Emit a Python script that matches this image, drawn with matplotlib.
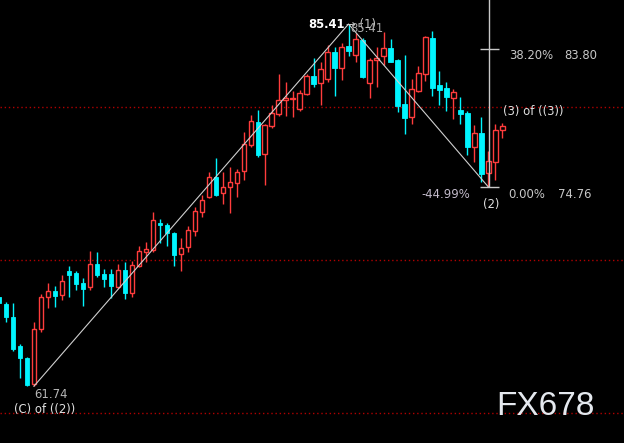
import numpy as np
import matplotlib
matplotlib.use('Agg')
import matplotlib.pyplot as plt

# OHLC per bar
opens = [67.57, 67.11, 66.26, 64.37, 63.58, 61.88, 65.48, 67.57, 67.96, 67.70,
         69.27, 69.14, 68.49, 68.22, 69.73, 69.07, 69.07, 68.22, 69.34, 67.83,
         69.60, 70.51, 70.64, 72.41, 72.28, 71.75, 70.38, 70.84, 71.88, 73.13,
         74.11, 75.41, 74.37, 74.76, 75.02, 75.81, 77.51, 79.01, 76.92, 78.75,
         79.53, 80.45, 80.51, 79.86, 80.84, 82.01, 81.56, 81.82, 83.58, 82.54,
         83.98, 83.39, 84.37, 81.56, 83.06, 83.32, 83.84, 83.06, 80.18, 79.34,
         81.03, 82.15, 84.50, 81.43, 81.23, 80.58, 79.79, 79.60, 77.37, 78.29,
         75.68, 76.39, 78.49]
highs = [67.70, 67.24, 67.18, 64.50, 63.65, 65.94, 67.77, 68.49, 68.29, 69.01,
         69.60, 69.27, 68.81, 70.58, 70.51, 69.40, 69.40, 69.73, 69.86, 69.92,
         70.90, 71.17, 73.13, 72.67, 72.41, 71.82, 71.43, 72.21, 73.45, 74.24,
         75.74, 76.66, 75.74, 76.07, 75.94, 78.35, 79.47, 79.79, 78.88, 80.12,
         82.15, 81.62, 81.03, 81.10, 82.15, 83.19, 82.93, 84.04, 83.91, 84.17,
         85.41, 84.83, 84.50, 83.19, 83.91, 84.89, 84.43, 83.10, 83.39, 81.82,
         82.67, 84.63, 84.96, 82.34, 81.62, 81.17, 80.64, 79.73, 78.81, 79.34,
         77.11, 78.88, 78.94]
lows = [67.05, 65.94, 64.04, 62.28, 61.78, 61.74, 65.28, 66.85, 66.92, 67.37,
        67.57, 68.03, 66.98, 68.03, 68.88, 68.22, 67.51, 68.16, 67.44, 67.57,
        69.53, 69.86, 70.51, 71.10, 70.90, 69.60, 69.27, 70.51, 71.56, 72.80,
        74.04, 74.17, 73.65, 73.06, 74.11, 75.22, 77.37, 76.72, 74.89, 78.62,
        79.40, 79.40, 79.34, 79.73, 80.77, 81.30, 80.12, 81.62, 80.71, 81.75,
        83.32, 82.93, 81.88, 80.58, 81.30, 82.73, 82.90, 79.66, 78.22, 78.88,
        80.97, 81.69, 80.71, 80.12, 79.73, 79.20, 78.88, 76.85, 76.39, 75.09,
        74.76, 75.22, 77.96]
closes = [67.18, 66.26, 64.17, 63.58, 61.85, 65.48, 67.57, 67.96, 67.64, 68.62,
          69.01, 68.42, 68.09, 69.73, 69.01, 68.75, 68.29, 69.34, 67.83, 69.66,
          70.58, 70.71, 72.60, 72.28, 71.75, 70.32, 70.77, 71.95, 73.19, 73.91,
          75.41, 74.24, 74.76, 75.09, 75.74, 77.57, 79.07, 76.85, 78.81, 79.60,
          80.45, 80.58, 80.58, 80.90, 82.01, 81.49, 82.47, 83.58, 82.54, 83.91,
          83.65, 84.43, 81.95, 83.06, 83.19, 83.84, 82.93, 80.05, 79.27, 81.17,
          82.21, 84.56, 81.23, 81.10, 80.64, 80.97, 79.53, 77.37, 78.29, 75.61,
          76.46, 78.49, 78.75]

# wave pivots: (bar index, price)
wave_idx = [5, 50, 70]
wave_px = [61.74, 85.41, 74.76]
fib_top = 83.80
fib_bottom = 74.76
grid_levels = [60, 70, 80]

RED = '#ff3c3c'
CYAN = '#00f5ff'
TXT = '#c8c8c8'

fig = plt.figure(figsize=(6.24, 4.43), dpi=100, facecolor='black')
ax = fig.add_axes([0, 0, 1, 1], facecolor='black')

o = np.array(opens)
h = np.array(highs)
l = np.array(lows)
c = np.array(closes)
x = np.arange(len(o))
up = c >= o

for g in grid_levels:
    ax.axhline(g, color='#b00000', lw=1, ls=(0, (1, 2)), zorder=0)

ax.vlines(x[up], l[up], h[up], color=RED, lw=1, zorder=2)
ax.vlines(x[~up], l[~up], h[~up], color=CYAN, lw=1, zorder=2)

bot = np.minimum(o, c)
hgt = np.maximum(np.abs(c - o), 0.08)
ax.bar(x[up], hgt[up], bottom=bot[up], width=0.62, facecolor='black',
       edgecolor=RED, lw=1, zorder=3)
ax.bar(x[~up], hgt[~up], bottom=bot[~up], width=0.62, facecolor=CYAN,
       edgecolor=CYAN, lw=0.6, zorder=3)

# wave lines
ax.plot(wave_idx, wave_px, color='#d0d0d0', lw=0.8, zorder=4)

# fib tool
fx = wave_idx[2] + 0.15
ax.vlines(fx, fib_bottom, 90, color='#c8c8c8', lw=1, zorder=4)
ax.hlines([fib_top, fib_bottom], fx - 1.4, fx + 1.4, color='#c8c8c8', lw=1, zorder=4)

fs = 8.4
ax.text(49.5, 85.41, '85.41', color='white', fontsize=fs, fontweight='bold',
        ha='right', va='center', zorder=5)
ax.text(49.6, 85.41, '\u2192 (1)', color=TXT, fontsize=fs, ha='left', va='center', zorder=5)
ax.text(50.2, 85.1, '85.41', color='#a8a8a8', fontsize=fs, ha='left', va='center', zorder=5)

ax.text(72.9, 83.35, '38.20%', color=TXT, fontsize=fs, ha='left', va='center')
ax.text(80.8, 83.35, '83.80', color=TXT, fontsize=fs, ha='left', va='center')
ax.text(72.1, 79.71, '(3) of ((3))', color='#e0e0e0', fontsize=fs, ha='left', va='center')
ax.text(60.4, 74.26, '-44.99%', color='#c4bccc', fontsize=fs, ha='left', va='center')
ax.text(72.9, 74.26, '0.00%', color=TXT, fontsize=fs, ha='left', va='center')
ax.text(80.0, 74.26, '74.76', color=TXT, fontsize=fs, ha='left', va='center')
ax.text(70.4, 73.6, '(2)', color='#e0e0e0', fontsize=fs, ha='center', va='center')
ax.text(5.1, 61.22, '61.74', color='#b8b8b8', fontsize=fs, ha='left', va='center')
ax.text(2.1, 60.22, '(C) of ((2))', color='#e0e0e0', fontsize=fs, ha='left', va='center')

ax.text(0.874, 0.083, 'FX678', color='#e4e8ee', fontsize=24, ha='center', va='center',
        family='Liberation Sans', transform=ax.transAxes, zorder=6)

ax.set_xlim(0.15, 89.39)
ax.set_ylim(58.03, 86.98)
ax.axis('off')

fig.savefig('out.png', dpi=100, facecolor='black')
